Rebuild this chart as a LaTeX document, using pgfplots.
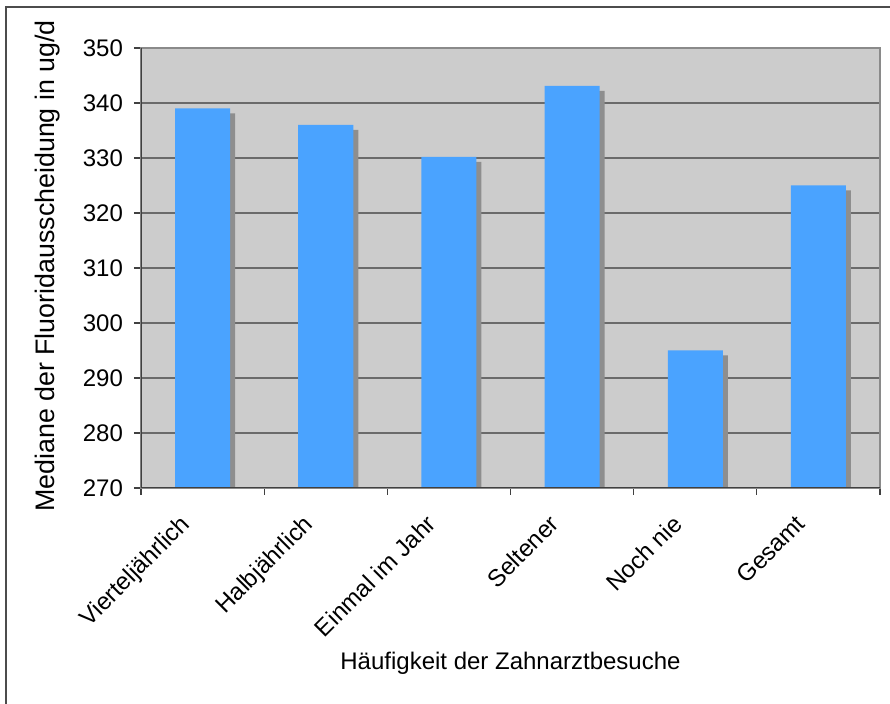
\documentclass[border=0pt]{standalone}
\usepackage{fontspec}
\setmainfont{Liberation Sans}
\usepackage{pgfplots}
\pgfplotsset{compat=1.18}
\definecolor{barBlue}{HTML}{4AA3FF}
\definecolor{shadowGray}{HTML}{8E8E8E}
\definecolor{plotBg}{HTML}{CCCCCC}
\definecolor{gridGray}{HTML}{6A6A6A}
\definecolor{frameGray}{HTML}{8A8A8A}
\begin{document}
\begin{tikzpicture}
  % page is 445pt x 352pt, i.e. 0.5pt per reference pixel
  \path[use as bounding box] (0pt,0pt) rectangle (445pt,352pt);
  \draw[black!70, line width=0.6pt] (3pt,0pt) -- (3pt,348.5pt) -- (445pt,348.5pt);

  \begin{axis}[
    at={(70.5pt,108pt)}, anchor=south west,
    scale only axis, width=369.5pt, height=220pt,
    xmin=-0.5, xmax=5.5, ymin=270, ymax=350,
    ytick={270,280,...,350},
    xtick={0,...,5},
    xticklabels={Vierteljährlich,Halbjährlich,Einmal im Jahr,Seltener,Noch nie,Gesamt},
    minor xtick={-0.5,0.5,...,5.5},
    major x tick style={draw=none},
    tick align=outside,
    major tick length=3.5pt, minor tick length=3.5pt,
    xtick pos=bottom, ytick pos=left,
    tick style={draw=black!75, line width=0.6pt},
    /pgf/number format/assume math mode=true,
    y tick label style={font=\fontsize{12}{14}\selectfont, xshift=-2pt},
    x tick label style={font=\fontsize{12}{14}\selectfont, inner sep=0pt,
      xshift=-12pt, yshift=-9pt, anchor=north east, rotate=45},
    ymajorgrids,
    major grid style={draw=gridGray, line width=0.7pt},
    axis background/.style={fill=plotBg},
    axis line style={draw=frameGray, line width=1pt},
    xlabel={Häufigkeit der Zahnarztbesuche},
    xlabel style={font=\fontsize{12}{14}\selectfont, at={(axis description cs:0.5,0)}, anchor=center, yshift=-87.5pt},
    ylabel={Mediane der Fluoridausscheidung in ug/d},
    ylabel style={font=\fontsize{13.4}{15}\selectfont, at={(axis description cs:0,0.5)}, anchor=center, yshift=46.5pt, xshift=1pt},
    ybar, bar width=27.5pt,
    clip=true,
  ]
    % shadow bars (offset 5px right and down)
    \addplot[fill=shadowGray, draw=none, bar shift=2.5pt]
      coordinates {(0,338.09) (1,335.09) (2,329.29) (3,342.19) (4,294.09) (5,324.09)};
    % main bars
    \addplot[fill=barBlue, draw=none, bar shift=0pt]
      coordinates {(0,339) (1,336) (2,330.2) (3,343.1) (4,295) (5,325)};
    \draw[black!75, line width=0.75pt] (rel axis cs:0,1) -- (rel axis cs:0,0) -- (rel axis cs:1,0);
  \end{axis}
\end{tikzpicture}
\end{document}
